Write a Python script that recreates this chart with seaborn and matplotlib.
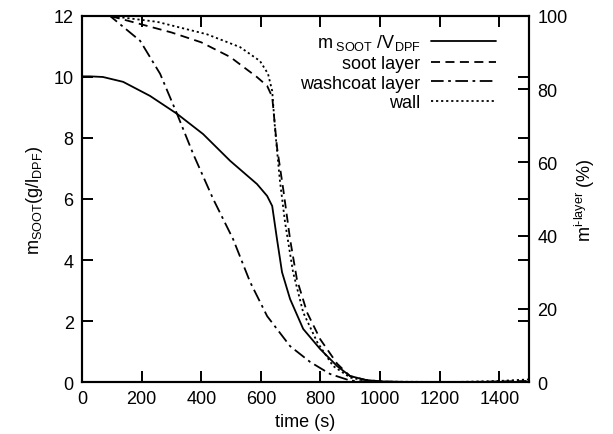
import matplotlib
matplotlib.use("Agg")
import pandas as pd
import matplotlib.pyplot as plt
import seaborn as sns

# m_SOOT / V_DPF (g/l), left axis
t_soot = [0, 27, 70, 138, 228, 319, 406, 497, 587, 621, 638, 654, 671, 698, 742,
          799, 856, 899, 950, 1000, 1100, 1500]
m_soot = [10.02, 10.02, 10.0, 9.84, 9.38, 8.79, 8.13, 7.25, 6.49, 6.1, 5.77, 4.69,
          3.6, 2.72, 1.74, 1.08, 0.52, 0.2, 0.07, 0.02, 0.0, 0.0]

# layer masses (%), right axis
t_layer = [0, 94, 195, 300, 400, 497, 587, 621, 638, 654, 675, 698, 721, 755,
           799, 856, 899, 950, 1000, 1050, 1300, 1500]
soot_layer = [100, 100, 97.8, 95.5, 92.8, 88.8, 83.3, 80.9, 77.9, 64.2, 52.7, 39.0,
              28.0, 19.0, 11.7, 5.0, 1.6, 0.6, 0.2, 0.0, 0.0, 0.3]

t_wash = [0, 94, 195, 262, 319, 373, 440, 507, 564, 621, 698, 765, 832, 899, 950,
          1000, 1500]
washcoat = [100, 100, 93.2, 84.2, 73.2, 62.3, 50.0, 39.0, 27.3, 18.0, 9.8, 5.5, 2.2,
            0.4, 0.1, 0.0, 0.0]

t_wall = [0, 94, 252, 419, 530, 597, 624, 638, 648, 664, 681, 708, 742, 789, 842,
          900, 950, 1000, 1250, 1400, 1500]
wall = [100, 100, 98.4, 95.0, 91.5, 87.7, 84.2, 79.5, 68.6, 54.9, 43.7, 30.0, 19.0,
        10.9, 4.4, 1.2, 0.4, 0.1, 0.0, 0.3, 0.7]

x_ticks = list(range(0, 1401, 200))
y_ticks = list(range(0, 13, 2))
y2_ticks = list(range(0, 101, 20))

df_soot = pd.DataFrame({"t": t_soot, "m": m_soot})
df_layer = pd.DataFrame({"t": t_layer, "p": soot_layer})
df_wash = pd.DataFrame({"t": t_wash, "p": washcoat})
df_wall = pd.DataFrame({"t": t_wall, "p": wall})

fs = 13
sns.set_style("white")
plt.rcParams.update({
    "font.family": ["Liberation Sans", "DejaVu Sans"],
    "mathtext.fontset": "custom",
    "mathtext.rm": "Liberation Sans",
    "mathtext.it": "Liberation Sans",
    "mathtext.default": "regular",
    "xtick.direction": "in", "ytick.direction": "in",
    "xtick.top": True, "ytick.right": True,
    "xtick.bottom": True, "ytick.left": True,
    "xtick.major.size": 8, "ytick.major.size": 8,
    "xtick.major.width": 1.4, "ytick.major.width": 1.4,
    "xtick.major.pad": 6, "ytick.major.pad": 6,
    "xtick.color": "black", "ytick.color": "black",
    "xtick.labelsize": fs, "ytick.labelsize": fs,
    "axes.edgecolor": "black", "axes.linewidth": 1.5,
    "axes.labelcolor": "black", "text.color": "black",
})

fig = plt.figure(figsize=(6.13, 4.35), dpi=100)
ax = fig.add_axes([0.1338, 0.1195, 0.8632 - 0.1338, 0.961 - 0.1195])
ax2 = ax.twinx()

lw = 1.3
sns.lineplot(data=df_soot, x="t", y="m", ax=ax, color="black", lw=lw,
             label=r"m$_{\ SOOT}$ /V$_{DPF}$", legend=False)
sns.lineplot(data=df_layer, x="t", y="p", ax=ax2, color="black", lw=lw,
             label="soot layer", legend=False)
sns.lineplot(data=df_wash, x="t", y="p", ax=ax2, color="black", lw=lw,
             label="washcoat layer", legend=False)
sns.lineplot(data=df_wall, x="t", y="p", ax=ax2, color="black", lw=lw,
             label="wall", legend=False)
ax2.lines[0].set_dashes([5, 3])
ax2.lines[1].set_dashes([7, 2.5, 1.5, 2.5])
ax2.lines[2].set_dashes([1.2, 1.6])

ax.set_xlim(0, 1500)
ax.set_ylim(0, 12)
ax2.set_ylim(0, 100)
ax.set_xticks(x_ticks)
ax.set_yticks(y_ticks)
ax2.set_yticks(y2_ticks)

ax.set_xlabel("time (s)", fontsize=fs, labelpad=4)
ax.set_ylabel(r"m$_{SOOT}$(g/l$_{DPF}$)", fontsize=fs, labelpad=6)
ax2.set_ylabel("m$^{i\u2010layer}$ (%)", fontsize=fs, labelpad=4)

# inward ticks on all four sides of the main axes, right ticks of the % axis
ax.tick_params(axis="both", which="major", direction="in", length=8, width=1.4,
               color="black", bottom=True, top=True, left=True, right=True)
ax2.tick_params(axis="y", which="major", direction="in", length=8, width=1.4,
                color="black", left=False, right=True)

handles = ax.get_lines()[:1] + ax2.get_lines()[:3]
labels = [h.get_label() for h in handles]
ax2.legend(handles, labels, loc="upper right", frameon=False, fontsize=fs,
           markerfirst=False, handlelength=3.6, handletextpad=0.6,
           labelspacing=0.15, borderaxespad=0.3, bbox_to_anchor=(0.955, 0.99))

fig.savefig("out.png", dpi=100)
